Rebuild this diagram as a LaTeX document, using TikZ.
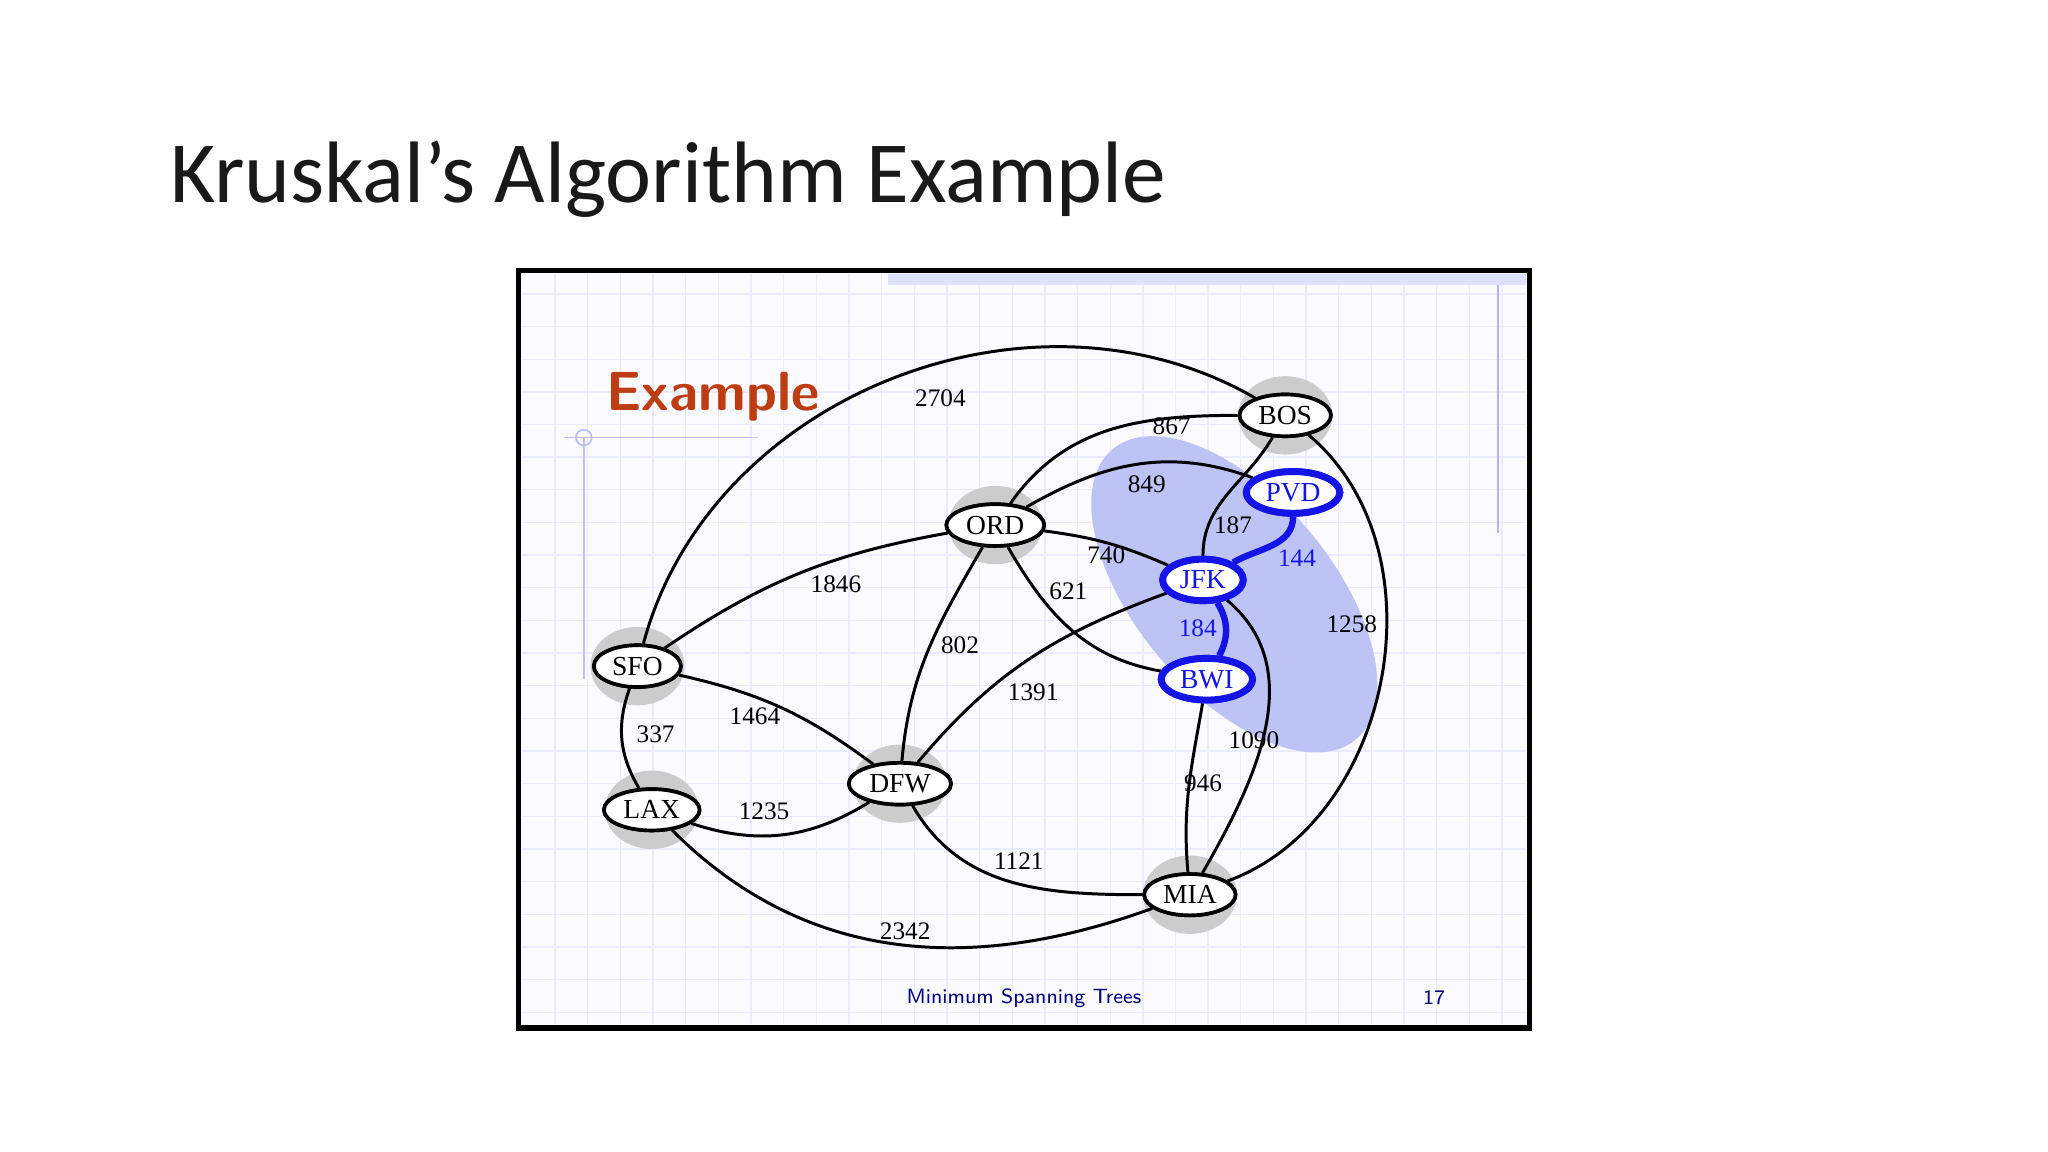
\documentclass[tikz,border=0pt]{standalone}
\usepackage{fontspec}
\setmainfont{Liberation Serif}
\newfontfamily\titlefont{Carlito}
\usetikzlibrary{shapes.geometric}
\definecolor{bluev}{RGB}{20,20,230}
\definecolor{regionblue}{RGB}{190,195,245}
\definecolor{exred}{RGB}{190,60,20}
\tikzset{
 city/.style={ellipse,draw,line width=0.8pt,fill=white,inner sep=1.2pt,font=\fontsize{6pt}{6pt}\selectfont},
 bcity/.style={city,draw=bluev,text=bluev,line width=1.5pt},
 edge/.style={line width=0.65pt},
 bedge/.style={line width=1.4pt,draw=bluev},
 lbl/.style={font=\fontsize{5.5pt}{5.5pt}\selectfont},
 blbl/.style={lbl,text=bluev}
}
\begin{document}
\begin{tikzpicture}[x=0.1mm,y=-0.1mm]
\useasboundingbox (0,0) rectangle (1568,882);
\fill[white] (0,0) rectangle (1568,882);
\node[anchor=base west,font=\titlefont\fontsize{19pt}{19pt}\selectfont,text=black!90] (title) at (118,155) {Kruskal’s Algorithm Example};
% frame
\fill[blue!2] (397,207) rectangle (1171,787);
\draw[blue!8,line width=0.3pt,step=0.25cm] (400,210) grid (1168,784);
\fill[blue!12] (680,210) rectangle (1168,218);
\draw[blue!30] (1147,218) -- (1147,408);
\draw[blue!25] (447,335) -- (447,520);
\draw[blue!25] (432,335) -- (580,335);
\draw[blue!25] (447,335) circle (6);
\draw[line width=1.2pt] (397,207) rectangle (1171,787);
\node[anchor=base west,font=\sffamily\bfseries\fontsize{12pt}{12pt}\selectfont,text=exred] (ex) at (452,314) {Example};
\node[font=\sffamily\fontsize{4.5pt}{4.5pt}\selectfont,text=blue!50!black] (foot) at (784,764) {Minimum Spanning Trees};
\node[font=\sffamily\fontsize{4.5pt}{4.5pt}\selectfont,text=blue!50!black] (pg) at (1098,764) {17};
% shaded region
\fill[regionblue,rotate around={-50:(945,455)}] (945,455) ellipse (145 and 75);
% halos
\foreach \p in {(984,318),(762,402),(488,510),(499,620),(689,600),(911,685)}
  \fill[gray!40] \p ellipse (36 and 30);
% nodes
\node[city] (BOS) at (984,318) {BOS};
\node[city] (ORD) at (762,402) {ORD};
\node[city] (SFO) at (488,510) {SFO};
\node[city] (LAX) at (499,620) {LAX};
\node[city] (DFW) at (689,600) {DFW};
\node[city] (MIA) at (911,685) {MIA};
\node[bcity] (PVD) at (990,377) {PVD};
\node[bcity] (JFK) at (921,444) {JFK};
\node[bcity] (BWI) at (924,520) {BWI};
% edges
\draw[edge] (SFO) to[out=75,in=150] (BOS);
\draw[edge] (ORD) to[out=55,in=180] (BOS);
\draw[edge] (ORD) to[out=30,in=160] (PVD);
\draw[edge] (ORD) to[bend left=8] (JFK);
\draw[edge] (ORD) to[out=-60,in=170] (BWI);
\draw[edge] (ORD) to[bend right=12] (SFO);
\draw[edge] (ORD) to[out=-120,in=85] (DFW);
\draw[edge] (BOS) to[out=-120,in=90] (JFK);
\draw[edge] (BOS) to[out=-40,in=20] (MIA);
\draw[edge] (JFK) to[out=-40,in=60] (MIA);
\draw[edge] (BWI) to[out=-100,in=95] (MIA);
\draw[edge] (JFK) to[out=200,in=50] (DFW);
\draw[edge] (SFO) to[bend right=25] (LAX);
\draw[edge] (SFO) to[bend left=12] (DFW);
\draw[edge] (LAX) to[bend right=25] (DFW);
\draw[edge] (DFW) to[out=-60,in=180] (MIA);
\draw[edge] (LAX) to[out=-45,in=200] (MIA);
\draw[bedge] (PVD) to[out=-90,in=30] (JFK);
\draw[bedge] (JFK) to[bend left=30] (BWI);
% redraw nodes on top
\node[city] at (BOS) {BOS};
\node[city] at (ORD) {ORD};
\node[city] at (SFO) {SFO};
\node[city] at (LAX) {LAX};
\node[city] at (DFW) {DFW};
\node[city] at (MIA) {MIA};
\node[bcity] at (PVD) {PVD};
\node[bcity] at (JFK) {JFK};
\node[bcity] at (BWI) {BWI};
% labels
\node[lbl] (l2704) at (720,305) {2704};
\node[lbl] (l867) at (897,326) {867};
\node[lbl] (l849) at (878,371) {849};
\node[lbl] (l740) at (847,425) {740};
\node[lbl] (l621) at (818,453) {621};
\node[lbl] (l1846) at (640,447) {1846};
\node[lbl] (l802) at (735,494) {802};
\node[lbl] (l187) at (944,402) {187};
\node[blbl] (l144) at (993,427) {144};
\node[blbl] (l184) at (917,481) {184};
\node[lbl] (l1258) at (1035,478) {1258};
\node[lbl] (l1090) at (960,567) {1090};
\node[lbl] (l946) at (921,600) {946};
\node[lbl] (l1391) at (791,530) {1391};
\node[lbl] (l337) at (502,562) {337};
\node[lbl] (l1464) at (578,548) {1464};
\node[lbl] (l1235) at (585,621) {1235};
\node[lbl] (l1121) at (780,659) {1121};
\node[lbl] (l2342) at (693,713) {2342};
\end{tikzpicture}
\end{document}
